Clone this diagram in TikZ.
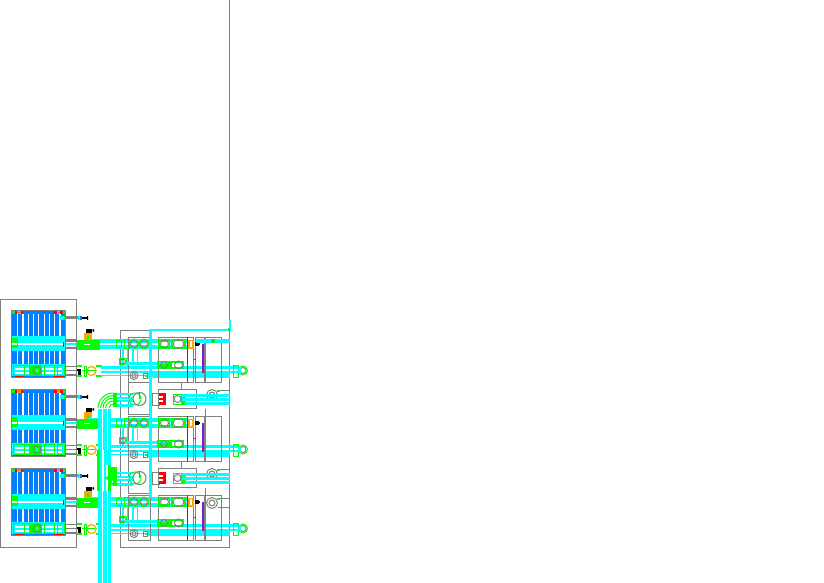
\documentclass[tikz,border=0pt]{standalone}
\definecolor{gr}{HTML}{808080}
\definecolor{cy}{HTML}{00FFFF}
\definecolor{gn}{HTML}{00FF00}
\definecolor{bl}{HTML}{0080FF}
\definecolor{rd}{HTML}{FF0000}
\definecolor{og}{HTML}{FFA500}
\definecolor{pu}{HTML}{8000FF}
\definecolor{pd}{HTML}{7A1FD0}
\tikzset{
  wall/.style={draw=gr,line width=1pt},
  gline/.style={draw=gn,line width=1pt},
  fit0/.style={draw=gr,line width=1pt,fill=none},
  fitg/.style={draw=gn,line width=1pt,fill=none},
}
% radiator panel, drawn at row-1 coordinates
\newcommand\panelrow{%
  % blue stripes
  \fill[bl] (12,311) rectangle (65,377);
  \foreach \x in {17,22.3,27.6,32.9,38.2,43.5,48.8,54.1,59.4}{\fill[white] (\x,314) rectangle ++(1.2,61);}
  \fill[cy] (12,336) rectangle (65,339);
  \fill[cy] (12,348) rectangle (65,351);
  % corner blocks
  \fill[gn] (11,310) rectangle (15,314);
  \fill[rd] (15,310.5) rectangle (23,314);
  \fill[og] (17,311) rectangle (21,314);
  \fill[gr] (18,312) rectangle (20,313);
  \fill[rd] (54,310.5) rectangle (63,314);
  \fill[og] (57,311) rectangle (60,314);
  \fill[gr] (58,312) rectangle (59.5,313);
  \fill[gn] (63,310) rectangle (66,314);
  % middle band
  \fill[cy] (11,339) rectangle (66,348);
  \fill[white] (18,342.5) rectangle (63,345);
  \fill[gn] (11,338) rectangle (18,348);
  \fill[white] (11,343) rectangle (17,344.5);
  \fill[pd] (63,342) rectangle (64,347);
  % lower band
  \fill[cy] (12,364) rectangle (65,376);
  \fill[white] (15,368) rectangle (62,370);
  \fill[white] (15,372) rectangle (62,373.5);
  \draw[gline] (13,365) rectangle (24,375);
  \draw[gline] (24,365) rectangle (29,375);
  \draw[gline] (44,365) rectangle (54,375);
  \draw[gline] (57,365) rectangle (64,375);
  \fill[gn] (30,365) rectangle (42,376);
  \draw[fit0] (37,370.5) circle [radius=4];
  \fill[cy] (36,369) rectangle (38,372);
  \fill[rd] (15,376) rectangle (23,377.5);
  \fill[rd] (54,376) rectangle (63,377.5);
  \draw[wall,line width=1.6pt] (11.5,310.5) rectangle (65.5,377.5);
  % stubs
  \fill[gr] (66,316) rectangle (78,319);
  \fill[cy] (60,316) rectangle (64,320);
  \fill[gn] (64,316) rectangle (65.5,320);
  \fill[gr] (66,339) rectangle (77,342);
  \fill[gr] (66,347) rectangle (77,349);
  \fill[cy] (66,343) rectangle (77,345);
  \fill[gr] (66,366) rectangle (77,367);
  \fill[gr] (66,374) rectangle (77,376);
  \fill[gr] (66,370) rectangle (77,371);
  % valve
  \fill[cy] (78,316) rectangle (81,320);
  \fill[bl] (80,316) rectangle (82,320);
  \fill[black] (82,317) rectangle (86,319);
  \fill[black] (86.5,316) rectangle (87.5,320);
  \fill[black] (85,318) -- (88,316) -- (88,320) -- cycle;
  % orange fitting + black valve above
  \fill[black] (86,328.5) rectangle (92,332.5);
  \fill[black] (92,330) -- (94,329) -- (94,332) -- cycle;
  \fill[og] (84,333) rectangle (92,341);
  \fill[gn] (87,336) rectangle (89,341);
  % big green tee
  \fill[cy] (87,339) rectangle (115,349);
  \fill[gn] (77,340) rectangle (100,349.5);
  \fill[white] (84,343.5) rectangle (90,344.5);
  % pipe to the right at y 344
  \fill[cy] (100,339) rectangle (188,349);
  \fill[white] (100,343) rectangle (188,344.5);
  % lower valve
  \fill[gn] (77,365) rectangle (82,367);
  \fill[gn] (77,375) rectangle (82,377);
  \fill[black] (77,369) rectangle (81,371);
  \fill[black] (78,371) rectangle (80.5,375);
  \fill[gn] (82,370) rectangle (97,371);
  \draw[og,line width=1.2pt] (91.5,371) circle [radius=4.5];
  \draw[gline] (84,366) rectangle (86,376);
  \fill[gn] (96,365) rectangle (101.5,367);
  \fill[gn] (96,375) rectangle (101.5,377);
  % lower long pipes
  \fill[cy] (101,366) rectangle (238,369);
  \fill[cy] (101,370.7) rectangle (238,372.5);
  \fill[cy] (101,375) rectangle (150,376);
  % thick return
  \fill[cy] (147,372.7) rectangle (229.5,378);
  \draw[gline] (233,365) rectangle (238,377);
  \draw[fitg] (243,370.5) circle [radius=4.5];
  \draw[fit0] (243,370.5) circle [radius=3];
  \fill[cy] (238,368) rectangle (241,373);
  % interior block outlines
  \draw[wall] (128.5,337.5) rectangle (150.5,382.5);
  \draw[wall] (158.5,337.5) rectangle (193.5,382.5);
  \draw[wall] (195.5,337.5) rectangle (204.5,382.5);
  \draw[wall] (205.5,337.5) rectangle (221.5,382.5);
  \draw[pu,line width=1pt] (187.5,337) -- (187.5,382);
  \fill[pd] (201.5,344) rectangle (204,373);
  % orange flange + black valve
  \draw[og,line width=1.5pt] (189,340.5) rectangle (193,348);
  \fill[black] (195,342) rectangle (199,346);
  \fill[black] (199,343) rectangle (200,345);
  \fill[pd] (194,359) rectangle (196,360);
  % upper row fittings
  \draw[gline] (116.5,340.5) rectangle (121.5,347.5);
  \draw[gline] (124,339.5) rectangle (129,348.5);
  \draw[fitg] (134,344) circle [radius=5];
  \draw[fit0] (134,344) circle [radius=3.5];
  \draw[fitg] (144,344) circle [radius=5];
  \draw[fit0] (144,344) circle [radius=3.5];
  \fill[gn] (158,339) rectangle (170,349);
  \fill[white] (160,342) rectangle (169,346);
  \draw[fit0] (164.5,344) circle [radius=4];
  \fill[gn] (171,339) rectangle (186,349);
  \fill[white] (173,341) rectangle (184,347);
  \draw[fit0] (178.5,344) ellipse [x radius=5.5,y radius=4.5];
  % risers between the two pipes
  \fill[cy] (122,348) rectangle (123.5,366);
  \fill[cy] (126.5,348) rectangle (128,366);
  \fill[cy] (132,348) rectangle (133.5,362);
  \fill[cy] (136.5,348) rectangle (138,362);
  \draw[gline] (119.5,358.5) rectangle (126,364.5);
  \draw[fit0] (123,361.5) circle [radius=2.5];
  % lower row fittings
  \fill[cy] (125,362) rectangle (158,365);
  \fill[gn] (157,361) rectangle (170,369);
  \fill[cy] (159,362) rectangle (168,364);
  \draw[fit0] (164,365) circle [radius=3.5];
  \fill[gn] (170,361) rectangle (184,369);
  \fill[white] (172,363) rectangle (182,367);
  \draw[fit0] (178.5,365) circle [radius=4];
  \draw[fit0] (134,375.5) circle [radius=4];
  \draw[fit0] (134,375.5) circle [radius=2];
  \draw[fit0] (143.5,373.5) rectangle (147.5,378.5);
  \fill[gn] (145,375) rectangle (146.5,377);
}
% branch from the riser to the panel row below (y about 399)
\newcommand\branchrow{%
  % blocks around
  \draw[wall] (158.5,389.5) rectangle (196.5,408.5);
  \draw[wall] (128.5,382.5) rectangle (150.5,414.5);
  \draw[wall] (181.5,382.5) -- (181.5,389.5);
  \draw[wall] (205.5,408.5) -- (205.5,416.5);
  \draw[gline] (113,393) -- (128,393);
  \draw[gline] (113,405.5) -- (128,405.5);
  \fill[gn] (113,393) rectangle (117,407);
  \fill[cy] (117,392.5) rectangle (133,395);
  \fill[cy] (117,404) rectangle (133,406.5);
  \fill[cy] (117,397) rectangle (133,402);
  \fill[white] (117,398.5) rectangle (130,399.5);
  \draw[fitg] (135,399) circle [radius=6];
  \draw[fit0] (139.5,399) circle [radius=6.5];
  \draw[fit0] (139.5,399) -- (139.5,393);
  \fill[cy] (150,394) rectangle (152,405);
  \draw[wall] (152,393.5) rectangle (159,405);
  \fill[rd] (159,393) rectangle (166,405);
  \fill[white] (159,396) rectangle (163,398);
  \fill[white] (159,400) rectangle (163,402);
  \draw[gline] (173,394) rectangle (185,404);
  \fill[gn] (181,395) rectangle (185,405);
  \draw[fit0] (177.5,399) circle [radius=3.5];
  \fill[cy] (182,394) rectangle (229.5,396.5);
  \fill[cy] (182,398) rectangle (229.5,400.5);
  \fill[cy] (185,402) rectangle (229.5,404.5);
}
\begin{document}
\begin{tikzpicture}[x=1pt,y=-1pt]
\useasboundingbox[fill=white] (0,0) rectangle (824,583);
% long vertical and outer boxes
\draw[wall] (229.5,0) -- (229.5,330);
\draw[wall] (229.5,330) -- (229.5,547.5);
\draw[wall] (0.5,299.5) rectangle (76.5,547.5);
\draw[wall] (120.5,330.5) rectangle (229.5,547.5);
% gears behind the branch pipes
\foreach \yy in {395,474,503}{
  \draw[fit0] (212,\yy) circle [radius=5.5];
  \draw[fit0] (212,\yy) circle [radius=3];
  \draw[wall] (218,\yy-4.5) -- (229,\yy-4.5);
  \draw[wall] (218,\yy+4) -- (229,\yy+4);
  \fill[gn] (217,\yy-5) rectangle (220,\yy-3);
}
\foreach \dy in {0,79,158}{
  \begin{scope}[yshift=-\dy pt]
    \panelrow
  \end{scope}
}
\begin{scope}
  \branchrow
\end{scope}
\begin{scope}[yshift=-79pt]
  \branchrow
\end{scope}
% first row only: extension of the pipe and small fitting
\fill[cy] (196,339) rectangle (229.5,343);
\fill[gn] (211,338.5) rectangle (215,343);
\fill[gr] (212,339.5) rectangle (214,342);
% top header pipe
\fill[cy] (150,328.5) rectangle (230.5,330.5);
\fill[cy] (228.5,320) rectangle (230.5,330.5);
\fill[gn] (227.5,328) rectangle (230,331);
\fill[cy] (149,329) rectangle (152,498);
% elbow and main vertical riser
\draw[gline] (98,408) .. controls (98,400) and (105,393) .. (113,393);
\draw[gline] (100.5,408) .. controls (100.5,402) and (106,395.5) .. (113,395.5);
\draw[gline] (103,408) .. controls (103,403) and (107,398) .. (113,398);
\draw[gline] (105.5,408) .. controls (105.5,404.5) and (109,401) .. (113,401);
\draw[gline] (109,408) .. controls (109,406) and (111,404) .. (113,404);
% main riser
\fill[cy] (98,409) rectangle (110.7,450);
\fill[cy] (98,491) rectangle (110.7,583);
\fill[white] (101.5,409) rectangle (102.8,450);
\fill[white] (106.5,409) rectangle (107.8,450);
\fill[white] (101.5,491) rectangle (102.8,583);
\fill[white] (106.5,491) rectangle (107.8,583);
% tee at the third row
\fill[white] (98,450) rectangle (110.7,491);
\fill[gn] (97,450) rectangle (100,491);
\fill[gn] (107.5,465) rectangle (110.7,491);
\fill[cy] (100,450) rectangle (102,491);
\fill[cy] (104,450) rectangle (106,491);
\fill[cy] (106,450) rectangle (110.7,465);
\fill[gn] (110,467) -- (117,467) -- (117,472) -- (110,485) -- cycle;
\fill[gn] (110,485) -- (117,486) -- (117,483) -- (113,483) -- cycle;
\draw[gline] (113,472) -- (106,478) -- (113,484);
\draw[gline] (106,478) -- (117,478);
\end{tikzpicture}
\end{document}
